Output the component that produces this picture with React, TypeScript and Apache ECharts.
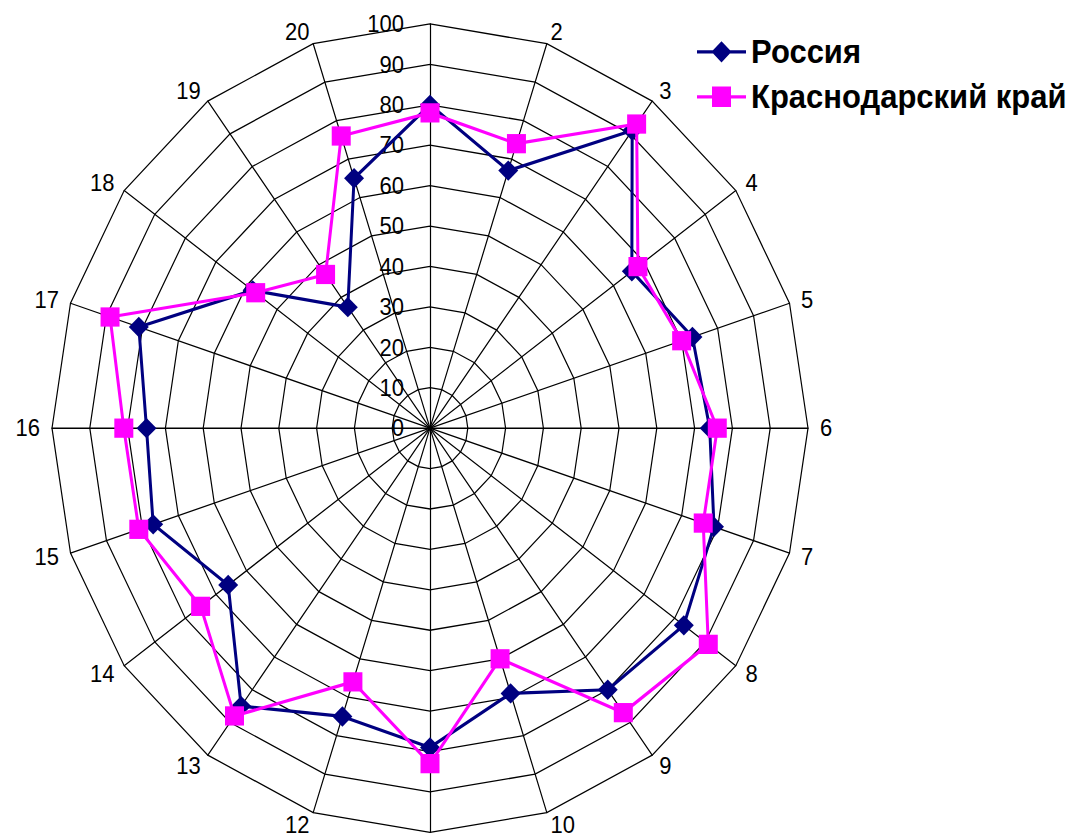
import { useEffect, useRef } from 'react';
import * as echarts from 'echarts';

// Categories (clockwise from the top)
const categories = ['1', '2', '3', '4', '5', '6', '7', '8', '9', '10', '11', '12', '13', '14', '15', '16', '17', '18', '19', '20'];
const russia = [80, 67, 91, 66, 73, 74, 79, 83, 80, 69, 79, 75, 85, 66, 77, 75, 81, 58, 37, 65];
const krasnodar = [78, 74, 93, 68, 70, 76, 76, 91, 87, 60, 83, 66, 88, 75, 81, 81, 89, 57, 47, 76];
const seriesNames = ['Россия', 'Краснодарский край'];
const hiddenCategoryLabels = ['1', '11'];
const axisMin = 0;
const axisMax = 100;
const axisStep = 10;

const FONT = '"Liberation Sans", Arial, sans-serif';
const W = 1072;
const H = 779;
const SCALE_Y = 833 / H;
const CX = 430;
const CY = 400.4;
const R = 378;

const NAVY = '#000080';
const MAGENTA = '#FF00FF';

const diamondIcon = 'path://M0,8.5L49,8.5L49,11.5L0,11.5Z M24.5,0L34.5,10L24.5,20L14.5,10Z';
const squareIcon = 'path://M0,8.5L49,8.5L49,11.5L0,11.5Z M15,0.5L34,0.5L34,19.5L15,19.5Z';

export default function App() {
  const ref = useRef<HTMLDivElement>(null);
  useEffect(() => {
    if (!ref.current) return;
    const chart = echarts.init(ref.current, null, { renderer: 'svg' });
    // ECharts radar lays indicators counter-clockwise; reorder to get 1..20 clockwise
    const order = [0, ...categories.slice(1).map((_, i) => categories.length - 1 - i)];
    const indicator = order.map((i) => ({ name: categories[i], min: axisMin, max: axisMax }));
    chart.setOption({
      animation: false,
      backgroundColor: '#fff',
      legend: {
        orient: 'vertical',
        left: 692,
        top: 28,
        itemWidth: 49,
        itemHeight: 20,
        itemGap: 11,
        textStyle: { fontSize: 31, fontWeight: 'bold', color: '#000', fontFamily: FONT },
        data: [
          { name: seriesNames[0], icon: diamondIcon, itemStyle: { color: NAVY } },
          { name: seriesNames[1], icon: squareIcon, itemStyle: { color: MAGENTA } },
        ],
      },
      polar: { center: [CX, CY], radius: R },
      angleAxis: { type: 'value', startAngle: 90, show: false },
      radiusAxis: {
        type: 'value',
        min: axisMin,
        max: axisMax,
        interval: axisStep,
        axisLine: { show: false },
        axisTick: { show: false },
        splitLine: { show: false },
        axisLabel: { fontSize: 22, color: '#000', fontFamily: FONT, margin: 26 },
      },
      radar: {
        center: [CX, CY],
        radius: R,
        startAngle: 90,
        splitNumber: (axisMax - axisMin) / axisStep,
        shape: 'polygon',
        indicator,
        nameGap: 12,
        axisName: {
          color: '#000',
          fontSize: 22,
          fontFamily: FONT,
          formatter: (n: string) => (hiddenCategoryLabels.includes(n) ? '' : n),
        },
        axisLine: { lineStyle: { color: '#000', width: 1.2 } },
        splitLine: { lineStyle: { color: '#000', width: 1.2 } },
        splitArea: { show: false },
        axisTick: { show: false },
        axisLabel: { show: false },
      },
      series: [
        {
          type: 'radar',
          z: 3,
          data: [
            {
              name: seriesNames[0],
              value: order.map((i) => russia[i]),
              symbol: 'diamond',
              symbolSize: [20, 19],
              lineStyle: { color: NAVY, width: 3 },
              itemStyle: { color: NAVY },
            },
          ],
        },
        {
          type: 'radar',
          z: 4,
          data: [
            {
              name: seriesNames[1],
              value: order.map((i) => krasnodar[i]),
              symbol: 'rect',
              symbolSize: [19, 18],
              lineStyle: { color: MAGENTA, width: 3 },
              itemStyle: { color: MAGENTA },
            },
          ],
        },
      ],
    });
    return () => chart.dispose();
  }, []);
  return (
    <div
      style={{
        position: 'absolute',
        left: 0,
        top: 0,
        width: W,
        height: 833,
        overflow: 'hidden',
        background: '#fff',
      }}
    >
      <div
        ref={ref}
        style={{
          width: W,
          height: H,
          transform: `scaleY(${SCALE_Y})`,
          transformOrigin: '0 0',
        }}
      />
    </div>
  );
}
